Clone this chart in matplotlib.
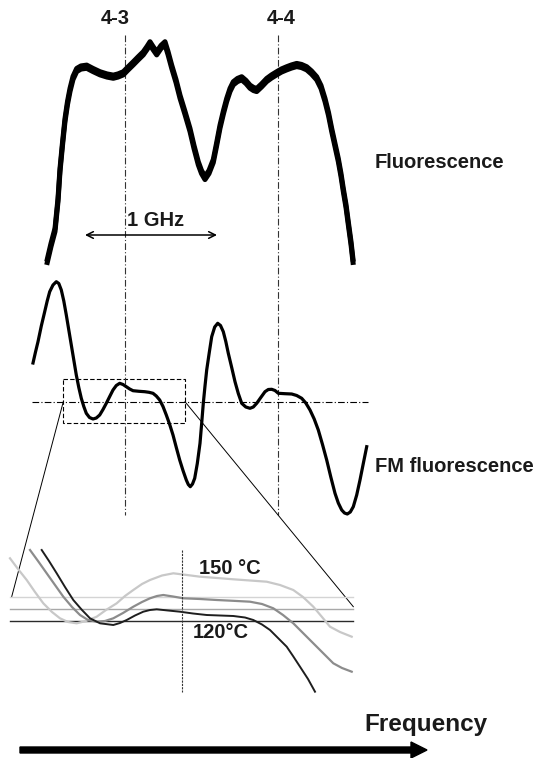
import matplotlib
matplotlib.use("Agg")
import matplotlib.pyplot as plt
from matplotlib.patches import Rectangle

plt.rcParams['font.family'] = ['Liberation Sans', 'DejaVu Sans']

# ---------------- data (figure-pixel coordinates: x = frequency, y = signal, downward) ----
fluo_x = [46.7, 51, 55, 58, 60, 62.5, 65, 67.5, 70, 73, 76.7, 81, 86.7, 93, 100, 107,
          113.3, 118, 123.3, 128, 133.3, 138, 143.3, 147, 150, 153, 156.7, 161, 165,
          168, 171.7, 176, 180, 185, 190, 194, 198.3, 201.5, 205, 209, 213.3, 216.5,
          220, 223.5, 226.7, 230, 233.3, 237.5, 241.7, 246, 250, 253.5, 256.7, 261.5,
          266.7, 271.5, 276.7, 281.5, 286.7, 291.5, 296.7, 301.5, 306.7, 311.5, 316.7,
          321, 325, 328.5, 331.7, 335, 338.3, 341, 343.3, 346, 348.3, 351, 353.3]
fluo_y = [263.3, 245, 230, 200, 170, 144, 120, 103, 90, 78, 70, 67.5, 66.7, 70, 73.3,
          75.5, 76.7, 75.5, 73.3, 68.5, 63.3, 58.5, 53.3, 48, 43.3, 48, 53.3, 47, 43.3,
          53, 66.7, 81, 96.7, 113, 130, 147, 163.3, 172, 178, 172, 161, 145,
          126.7, 112, 100, 90, 83.3, 80, 78.3, 82, 86.7, 89, 90, 85.5,
          80, 76.5, 73.3, 70.5, 68.3, 66.5, 65, 66, 68.3, 72.5, 78.3,
          87, 100, 114, 130, 145, 160, 175, 190, 206, 223.3, 243, 263.3]

fm_x = [33, 35.5, 38, 41.3, 44.7, 47.2, 49.7, 53, 56.3, 58.8, 61.3, 63.8, 66.3, 68.8,
        71.3, 73.8, 76.3, 78.8, 81.3, 83.8, 86.3, 89.5, 93, 96.3, 99.7, 103, 106.3,
        109.7, 113, 116.3, 119.7, 123, 126.3, 129.7, 133, 139, 144.7, 149, 153, 156.3,
        159.7, 163, 166.3, 169.7, 173, 176.3, 179.7, 183, 186.3, 188.3, 190.3, 192.5,
        194.7, 197.3, 200, 201.7, 203.3, 205, 206.7, 209.2, 211.7, 214.7, 217.7, 220.5,
        223.3, 225.8, 228.3, 231.7, 235, 238.3, 241.7, 245.8, 250, 253.3, 256.7, 260.8,
        265, 268.3, 271.7, 275, 278.3, 285, 291.7, 296.7, 301.7, 305.8, 310, 314.2,
        318.3, 322.5, 326.7, 330.8, 335, 338.3, 341.7, 344.5, 347.3, 350.3, 353.3,
        356.7, 360, 363.3, 366.7]
fm_y = [363, 352, 341.7, 326, 311.7, 301, 291.7, 285, 281.7, 283.5, 290, 301, 315, 330,
        345, 360, 375, 387.5, 398.3, 406.5, 413.3, 417.5, 419, 418, 415, 409.5, 403.3,
        396.5, 390, 385.5, 383.3, 384.5, 386.7, 389, 390.7, 391.3, 391.7, 392.3, 393.3,
        396, 400, 406.5, 415, 424.5, 435, 447.5, 460, 470.5, 480, 484.5, 486.7, 484,
        478.3, 463.5, 443.3, 423, 403.3, 386, 370, 353, 336.7, 327, 323.3, 325.5,
        331.7, 341.5, 353.3, 367.5, 381.7, 393.5, 403.3, 407, 408.3, 407, 403.3, 397.5,
        391.7, 389.5, 389.3, 390.5, 393.3, 393.7, 394, 395.5, 398.3, 403, 410, 419,
        430, 444.5, 460, 477, 493.3, 503, 510, 513, 514, 512, 506.7,
        495, 480, 463.5, 446.7]

inset_light_x = [10, 18, 26.7, 35, 43.3, 52, 60, 68, 76.7, 86, 96.7, 106, 116.7, 125, 133.3,
                 142, 150, 162, 173.3, 187, 200, 217, 233.3, 250, 266.7, 280, 293.3, 303,
                 313.3, 322, 330, 340, 351.7]
inset_light_y = [558.3, 569, 580, 592, 603.3, 612, 618.3, 622, 623.3, 621, 616.7, 610, 603.3,
                 596, 590, 584, 580, 575.5, 573.3, 575, 576.7, 578, 579.3, 580.5, 581.7, 585,
                 590, 597, 606.7, 617, 626.7, 632, 636.7]

inset_mid_x = [30, 38, 46.7, 55, 63.3, 72, 80, 88, 96.7, 105, 113.3, 123, 133.3, 142, 150,
               157, 163.3, 173, 183.3, 200, 216.7, 233, 250, 262, 273.3, 283, 293.3, 303,
               313.3, 323, 333.3, 342, 351.7]
inset_mid_y = [550, 561, 573.3, 585, 596.7, 607, 615, 620, 621.7, 621, 618.3, 613, 606.7,
               602, 598.3, 596, 595, 596.5, 598.3, 599, 600, 600.8, 601.7, 604, 608.3, 615,
               623.3, 633, 643.3, 653, 663.3, 668, 671.7]

inset_dark_x = [41.7, 49, 56.7, 65, 73.3, 82, 90, 100, 113.3, 120, 126.7, 135, 143.3, 150,
                156.7, 168, 180, 193, 206.7, 220, 233.3, 245, 253.3, 262, 270, 278, 286.7,
                293, 300, 308, 315]
inset_dark_y = [550, 561, 573.3, 587, 600, 610, 618.3, 623.3, 625, 623, 620, 615.5, 611.7,
                610, 609.3, 610.5, 611.7, 613.5, 615, 615.5, 616, 617.5, 620, 624.5, 630, 638,
                646.7, 656, 666.7, 679, 691.7]

inset_ref_levels = [596.7, 609.0, 621.0]          # baselines of the three traces
inset_colors = ['#c8c8c8', '#8c8c8c', '#1e1e1e']
inset_base_colors = ['#d4d4d4', '#a8a8a8', '#2a2a2a']

line_43_x = 124.5
line_44_x = 277.5

# ---------------- figure ----------------
fig = plt.figure(figsize=(5.37, 7.58), dpi=100)
ax = fig.add_axes([0, 0, 1, 1])
ax.set_xlim(0, 537)
ax.set_ylim(758, 0)
ax.axis('off')

dashdot = (0, (6, 2, 1, 2))

# vertical transition markers
for xv in (line_43_x, line_44_x):
    ax.plot([xv, xv], [35, 515], color='#333333', lw=0.8, ls=dashdot)

# fluorescence trace (noisy -> thick band)
for dy in (-1.6, 1.6):
    ax.plot(fluo_x, [v + dy for v in fluo_y], color='black', lw=3.6,
            solid_joinstyle='round', solid_capstyle='butt')

# FM trace
ax.plot([31.7, 368.3], [402.3, 402.3], color='black', lw=0.8, ls=dashdot)
ax.plot(fm_x, fm_y, color='black', lw=2.3, solid_joinstyle='round')

# zoom box
ax.add_patch(Rectangle((63.3, 379.3), 121.7, 44.0, fill=False, ec='black', lw=0.8,
                       ls=(0, (4, 2))))
ax.plot([63.3, 11.7], [401.7, 596.7], color='black', lw=0.7)
ax.plot([185.0, 353.3], [401.7, 606.7], color='black', lw=0.7)

# inset baselines
for lvl, c in zip(inset_ref_levels, inset_base_colors):
    ax.plot([10, 353], [lvl, lvl], color=c, lw=1.0)

ax.plot(inset_light_x, inset_light_y, color=inset_colors[0], lw=1.6)
ax.plot(inset_mid_x, inset_mid_y, color=inset_colors[1], lw=1.6)
ax.plot(inset_dark_x, inset_dark_y, color=inset_colors[2], lw=1.4)
ax.plot([182, 182], [550, 692], color='#333333', lw=0.8, ls=(0, (2, 1)))

# labels
bold = dict(fontweight='bold', color='#1a1a1a')
fs = 14.5
ax.text(115, 19, '4-3', ha='center', va='center', fontsize=fs, **bold)
ax.text(281, 19, '4-4', ha='center', va='center', fontsize=fs, **bold)
ax.text(375, 162, 'Fluorescence', ha='left', va='center', fontsize=fs, **bold)
ax.text(375, 467, 'FM fluorescence', ha='left', va='center', fontsize=fs, **bold)
ax.text(127, 220, '1 GHz', ha='left', va='center', fontsize=fs, **bold)
ax.annotate('', xy=(85, 235), xytext=(217, 235),
            arrowprops=dict(arrowstyle='<->', lw=1.1, color='black', mutation_scale=12,
                            shrinkA=0, shrinkB=0))
ax.text(230, 568, '150 °C', ha='center', va='center', fontsize=fs, **bold)
ax.text(221, 633, '120°C', ha='center', va='center', fontsize=fs, **bold)

# frequency arrow
ax.arrow(20, 750, 407, 0, width=6, head_width=16, head_length=16,
         length_includes_head=True, color='black')
ax.text(426, 725, 'Frequency', ha='center', va='center', fontsize=17.5, **bold)

fig.savefig('out.png', dpi=100)
